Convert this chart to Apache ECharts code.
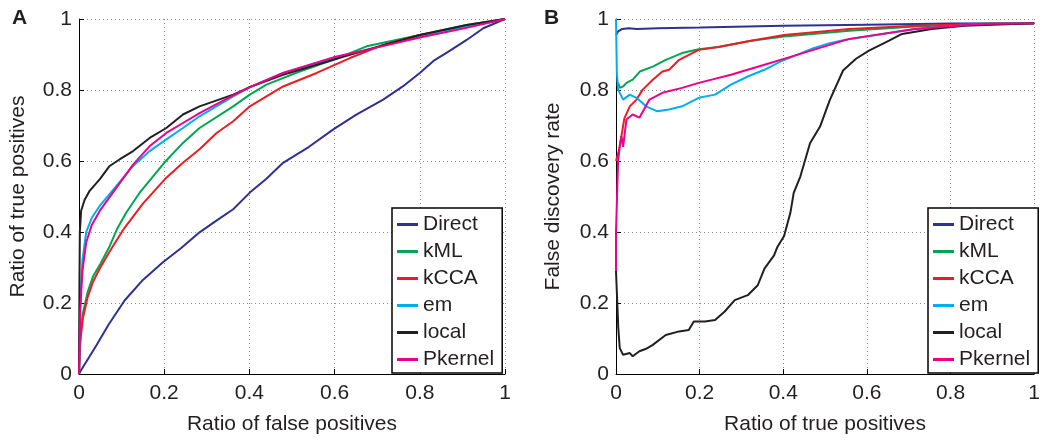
<!DOCTYPE html>
<html>
<head>
<meta charset="utf-8">
<script src="https://cdn.jsdelivr.net/npm/echarts@6/dist/echarts.min.js"></script>
<style>
  html, body { margin: 0; padding: 0; background: #fff; }
  #chart { width: 1043px; height: 440px; }
</style>
</head>
<body>
<div id="chart"></div>
<script>
// 曲线名称和颜色
const seriesNames = ['Direct', 'kML', 'kCCA', 'em', 'local', 'Pkernel']
const seriesColors = ['#2e3192', '#00a651', '#ed1c24', '#00aeef', '#231f20', '#ec008c']

// A: ratio of false positives (x) / ratio of true positives (y)
const rocDirect = [[0, 0], [0.005, 0.011], [0.02, 0.04], [0.041, 0.081], [0.07, 0.14], [0.107, 0.207], [0.15, 0.265], [0.197, 0.315], [0.24, 0.355], [0.283, 0.399], [0.32, 0.43], [0.362, 0.464], [0.401, 0.511], [0.44, 0.55], [0.479, 0.595], [0.54, 0.64], [0.597, 0.689], [0.65, 0.73], [0.714, 0.773], [0.76, 0.81], [0.8, 0.848], [0.832, 0.882], [0.87, 0.91], [0.91, 0.941], [0.949, 0.974], [1, 1]]
const rocKML = [[0, 0], [0.003, 0.1], [0.009, 0.17], [0.02, 0.23], [0.033, 0.275], [0.05, 0.31], [0.072, 0.36], [0.09, 0.41], [0.111, 0.455], [0.142, 0.51], [0.2, 0.595], [0.244, 0.651], [0.283, 0.693], [0.362, 0.754], [0.401, 0.787], [0.44, 0.815], [0.518, 0.852], [0.597, 0.885], [0.675, 0.923], [0.8, 0.955], [0.91, 0.983], [1, 1]]
const rocKCCA = [[0, 0], [0.003, 0.09], [0.009, 0.156], [0.02, 0.215], [0.033, 0.26], [0.05, 0.3], [0.072, 0.345], [0.103, 0.405], [0.15, 0.48], [0.205, 0.553], [0.244, 0.595], [0.283, 0.633], [0.323, 0.679], [0.362, 0.712], [0.401, 0.754], [0.479, 0.81], [0.558, 0.848], [0.636, 0.89], [0.714, 0.927], [0.8, 0.955], [0.91, 0.978], [1, 1]]
const rocEm = [[0, 0], [0.003, 0.2], [0.008, 0.32], [0.017, 0.4], [0.03, 0.44], [0.049, 0.474], [0.088, 0.53], [0.127, 0.586], [0.166, 0.628], [0.205, 0.661], [0.244, 0.693], [0.283, 0.726], [0.362, 0.782], [0.401, 0.808], [0.479, 0.848], [0.597, 0.89], [0.675, 0.913], [0.8, 0.95], [0.91, 0.978], [1, 1]]
const rocLocal = [[0, 0], [0.001, 0.25], [0.002, 0.4], [0.005, 0.46], [0.013, 0.49], [0.025, 0.516], [0.049, 0.549], [0.072, 0.586], [0.096, 0.605], [0.127, 0.628], [0.166, 0.665], [0.205, 0.693], [0.244, 0.731], [0.283, 0.754], [0.362, 0.787], [0.401, 0.808], [0.479, 0.843], [0.597, 0.885], [0.675, 0.913], [0.8, 0.955], [0.91, 0.983], [1, 1]]
const rocPkernel = [[0, 0], [0.003, 0.18], [0.008, 0.29], [0.017, 0.371], [0.03, 0.42], [0.049, 0.46], [0.088, 0.525], [0.127, 0.59], [0.166, 0.642], [0.205, 0.679], [0.244, 0.707], [0.283, 0.735], [0.362, 0.785], [0.401, 0.808], [0.479, 0.848], [0.597, 0.892], [0.675, 0.913], [0.8, 0.948], [0.91, 0.975], [1, 1]]

// B: ratio of true positives (x) / false discovery rate (y)
const fdrDirect = [[0, 0.955], [0.005, 0.965], [0.015, 0.972], [0.03, 0.974], [0.05, 0.972], [0.1, 0.974], [0.2, 0.976], [0.4, 0.981], [0.6, 0.984], [0.8, 0.987], [1, 0.988]]
const fdrKML = [[0.005, 0.82], [0.009, 0.806], [0.017, 0.81], [0.025, 0.82], [0.04, 0.829], [0.057, 0.852], [0.088, 0.866], [0.119, 0.885], [0.158, 0.904], [0.198, 0.915], [0.245, 0.921], [0.323, 0.939], [0.402, 0.951], [0.558, 0.967], [0.715, 0.979], [0.872, 0.986], [1, 0.988]]
const fdrKCCA = [[0, 0.6], [0.005, 0.62], [0.009, 0.642], [0.02, 0.72], [0.033, 0.754], [0.049, 0.773], [0.064, 0.801], [0.088, 0.829], [0.111, 0.852], [0.127, 0.857], [0.151, 0.885], [0.198, 0.913], [0.245, 0.921], [0.323, 0.939], [0.402, 0.955], [0.558, 0.972], [0.715, 0.981], [0.872, 0.986], [1, 0.988]]
const fdrEm = [[0, 1], [0.002, 0.85], [0.005, 0.801], [0.017, 0.773], [0.033, 0.787], [0.049, 0.778], [0.072, 0.754], [0.099, 0.74], [0.127, 0.745], [0.158, 0.754], [0.198, 0.778], [0.237, 0.787], [0.275, 0.815], [0.315, 0.838], [0.355, 0.857], [0.393, 0.88], [0.433, 0.899], [0.472, 0.918], [0.511, 0.932], [0.546, 0.941], [0.715, 0.972], [0.872, 0.986], [1, 0.988]]
const fdrLocal = [[0, 0.29], [0.0055, 0.129], [0.009, 0.073], [0.017, 0.054], [0.033, 0.059], [0.04, 0.05], [0.056, 0.064], [0.072, 0.071], [0.088, 0.082], [0.119, 0.11], [0.151, 0.12], [0.174, 0.124], [0.186, 0.148], [0.213, 0.148], [0.237, 0.152], [0.26, 0.176], [0.284, 0.208], [0.315, 0.222], [0.339, 0.25], [0.355, 0.297], [0.378, 0.334], [0.386, 0.358], [0.402, 0.389], [0.417, 0.454], [0.425, 0.51], [0.441, 0.557], [0.464, 0.65], [0.488, 0.697], [0.511, 0.771], [0.543, 0.855], [0.574, 0.888], [0.605, 0.911], [0.653, 0.939], [0.684, 0.958], [0.755, 0.972], [0.833, 0.981], [1, 0.988]]
const fdrPkernel = [[0, 0.29], [0, 0.4], [0.005, 0.6], [0.009, 0.642], [0.013, 0.67], [0.017, 0.64], [0.025, 0.717], [0.04, 0.731], [0.056, 0.722], [0.08, 0.773], [0.111, 0.792], [0.158, 0.806], [0.198, 0.82], [0.275, 0.843], [0.355, 0.871], [0.433, 0.899], [0.511, 0.927], [0.558, 0.944], [0.715, 0.972], [0.872, 0.986], [1, 0.988]]

const rocData = [rocDirect, rocKML, rocKCCA, rocEm, rocLocal, rocPkernel]
const fdrData = [fdrDirect, fdrKML, fdrKCCA, fdrEm, fdrLocal, fdrPkernel]

const font = 'Liberation Sans, Arial, sans-serif'
const textColor = '#231f20'

function makeAxis(idx, name, gap, isX) {
  return {
    type: 'value',
    gridIndex: idx,
    min: 0,
    max: 1,
    interval: 0.2,
    name: name,
    nameLocation: 'middle',
    nameGap: gap,
    nameTextStyle: { fontFamily: font, fontSize: 21, color: textColor },
    axisLine: { show: true, onZero: false, lineStyle: { color: '#000', width: 1 } },
    axisTick: { show: true, inside: true, length: 5, lineStyle: { color: '#000' } },
    axisLabel: { margin: isX ? 9 : 7, fontFamily: font, fontSize: 21, color: textColor },
    splitLine: { show: true, lineStyle: { color: '#8a8a8a', type: [1, 3], width: 1 } }
  }
}

function makeLegend(idx, left) {
  return {
    orient: 'vertical',
    left: left,
    top: 208,
    data: seriesNames,
    icon: 'rect',
    itemWidth: 21,
    itemHeight: 3,
    itemGap: 6,
    padding: [6, 8, 3, 5],
    backgroundColor: '#fff',
    borderColor: '#000',
    borderWidth: 1.5,
    borderRadius: 0,
    selectedMode: false,
    textStyle: { fontFamily: font, fontSize: 21, color: textColor, lineHeight: 20 }
  }
}

let series = []
seriesNames.forEach(function (n, i) {
  series.push({ name: n, type: 'line', xAxisIndex: 0, yAxisIndex: 0, data: rocData[i] })
  series.push({ name: n, type: 'line', xAxisIndex: 1, yAxisIndex: 1, data: fdrData[i] })
})
series.forEach(function (s) {
  let c = seriesColors[seriesNames.indexOf(s.name)]
  s.showSymbol = false
  s.symbol = 'none'
  s.clip = false
  s.animation = false
  s.color = c
  s.lineStyle = { color: c, width: 2 }
})

let myChart = echarts.init(document.getElementById('chart'))
myChart.setOption({
  backgroundColor: '#fff',
  animation: false,
  grid: [
    { left: 79, top: 19, width: 426, height: 357 },
    { left: 616, top: 19, width: 425, height: 357 }
  ],
  xAxis: [
    makeAxis(0, 'Ratio of false positives', 40, true),
    makeAxis(1, 'Ratio of true positives', 40, true)
  ],
  yAxis: [
    makeAxis(0, 'Ratio of true positives', 50, false),
    makeAxis(1, 'False discovery rate', 52, false)
  ],
  legend: [makeLegend(0, 392), makeLegend(1, 928)],
  graphic: [
    // 面板标号
    { type: 'text', left: 12, top: 8, style: { text: 'A', font: 'bold 21px ' + font, fill: textColor } },
    { type: 'text', left: 544, top: 8, style: { text: 'B', font: 'bold 21px ' + font, fill: textColor } }
  ],
  series: series
})
</script>
</body>
</html>
